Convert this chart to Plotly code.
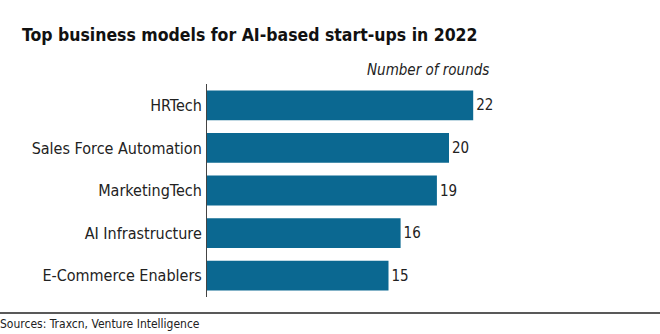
import plotly.graph_objects as go

categories = ["HRTech", "Sales Force Automation", "MarketingTech", "AI Infrastructure", "E-Commerce Enablers"]
rounds = [22, 20, 19, 16, 15]

title_text = "Top business models for AI-based start-ups in 2022"
unit_text = "Number of rounds"
source_text = "Sources: Traxcn, Venture Intelligence"

FONT = "Liberation Sans Narrow, DejaVu Sans Condensed, Roboto, sans-serif"
BAR = "#0b6891"

W, H = 660, 334
L, R, T, B = 207, 90, 84, 37
pw = W - L - R
ph = H - T - B

def px(x):
    return (x - L) / pw

def py(y):
    return (H - B - y) / ph

fig = go.Figure(go.Bar(
    x=rounds, y=categories, orientation="h",
    marker=dict(color=BAR, line=dict(width=0)),
    width=0.7,
    text=[str(v) for v in rounds], textposition="outside",
    textfont=dict(size=15, color="#222222", family=FONT),
    cliponaxis=False,
))

fig.update_layout(
    width=W, height=H,
    margin=dict(l=L, r=R, t=T, b=B, autoexpand=False),
    paper_bgcolor="white", plot_bgcolor="white",
    showlegend=False,
    font=dict(family=FONT, color="#222222"),
    title=dict(text="<b>" + title_text + "</b>", xref="container", yref="container",
               x=22 / W, xanchor="left", y=1 - 35 / H, yanchor="middle",
               font=dict(size=17.5, color="#111111", family=FONT)),
    xaxis=dict(range=[0, 30], visible=False, fixedrange=True),
    yaxis=dict(categoryorder="array", categoryarray=categories[::-1],
               range=[-0.5, 4.5], showline=True, linecolor="#444444", linewidth=1,
               ticks="", showgrid=False, zeroline=False, automargin=False,
               tickfont=dict(size=16, color="#222222", family=FONT),
               ticklabelstandoff=1),
    bargap=0.3,
)

fig.add_annotation(text="<i>" + unit_text + "</i>", xref="paper", yref="paper",
                   x=px(491), y=py(70), xanchor="right", yanchor="middle",
                   showarrow=False, font=dict(size=15, color="#222222", family=FONT))
fig.add_annotation(text=source_text, xref="paper", yref="paper",
                   x=px(-2), y=py(324), xanchor="left", yanchor="middle",
                   showarrow=False, font=dict(size=12, color="#222222", family=FONT))
fig.add_shape(type="line", xref="paper", yref="paper",
              x0=px(0), x1=px(W), y0=py(313), y1=py(313),
              line=dict(color="#222222", width=1.5))

fig.write_html("out.html")
